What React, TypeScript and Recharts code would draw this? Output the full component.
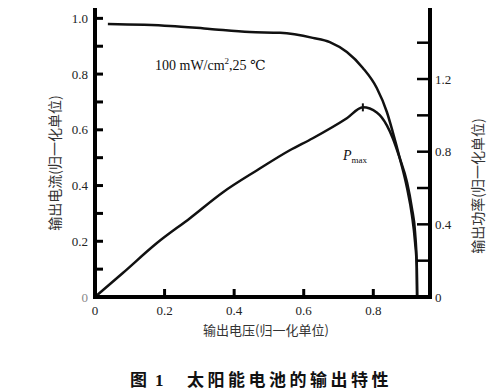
import { LineChart, Line, XAxis, YAxis } from 'recharts'

// output voltage (normalized) vs current (normalized)
const ivVoltage = [0.037, 0.216, 0.33, 0.445, 0.532, 0.626, 0.675, 0.724, 0.77, 0.81, 0.839, 0.856, 0.876, 0.897, 0.911, 0.92, 0.925, 0.926]
const ivCurrent = [0.98, 0.973, 0.962, 0.951, 0.948, 0.93, 0.915, 0.879, 0.822, 0.75, 0.664, 0.592, 0.499, 0.391, 0.294, 0.197, 0.104, 0]

// output voltage vs power (normalized)
const pVoltage = [0, 0.08, 0.178, 0.273, 0.368, 0.466, 0.56, 0.626, 0.724, 0.77, 0.81, 0.839, 0.856, 0.876, 0.897, 0.911, 0.92, 0.925, 0.926]
const pPower = [0, 0.132, 0.297, 0.434, 0.577, 0.698, 0.808, 0.874, 0.984, 1.044, 1.016, 0.945, 0.874, 0.764, 0.632, 0.489, 0.357, 0.176, 0]

const xTicks = [0, 0.2, 0.4, 0.6, 0.8]
const leftTicks = [0, 0.1, 0.2, 0.3, 0.4, 0.5, 0.6, 0.7, 0.8, 0.9, 1.0]
const rightTicks = [0, 0.2, 0.4, 0.6, 0.8, 1.0, 1.2, 1.4]

const ivData = ivVoltage.map((v, i) => ({ v, current: ivCurrent[i] }))
const pData = pVoltage.map((v, i) => ({ v, power: pPower[i] }))
const peakIdx = pPower.indexOf(Math.max(...pPower))

const NUM_FONT = '"Liberation Serif", "DejaVu Serif", serif'
const CJK_FONT = '"Noto Sans CJK SC", sans-serif'

const fmt = (v: number) => (v === 0 ? '0' : v.toFixed(1))

function LeftTick({ x, y, payload }: any) {
  const v = payload.value
  const major = Math.round(v * 10) % 2 === 0
  return (
    <g>
      {v !== 0 && <line x1={x} x2={x + 8} y1={y} y2={y} stroke="#000" strokeWidth={3} />}
      {major && (
        <text x={x - 7} y={y} dy="0.35em" textAnchor="end" fontFamily={NUM_FONT} fontSize={13} fill={v === 0 ? '#888' : '#222'}>
          {fmt(v)}
        </text>
      )}
    </g>
  )
}

function RightTick({ x, y, payload }: any) {
  const v = payload.value
  const major = Math.round(v * 10) % 4 === 0
  return (
    <g>
      {v !== 0 && <line x1={x} x2={x - 13} y1={y} y2={y} stroke="#000" strokeWidth={2.5} />}
      {major && (
        <text x={x + 5} y={y} dy="0.35em" textAnchor="start" fontFamily={NUM_FONT} fontSize={13} fill="#222">
          {fmt(v)}
        </text>
      )}
    </g>
  )
}

function BottomTick({ x, y, payload }: any) {
  const v = payload.value
  return (
    <g>
      {v !== 0 && <line x1={x} x2={x} y1={y} y2={y - 8} stroke="#000" strokeWidth={3} />}
      <text x={x} y={y + 13} dy="0.35em" textAnchor="middle" fontFamily={NUM_FONT} fontSize={13} fill="#222">
        {fmt(v)}
      </text>
    </g>
  )
}

const frame = { stroke: '#000', strokeWidth: 4, strokeLinecap: 'square' as const }

export default function App() {
  return (
    <div style={{ position: 'absolute', left: 0, top: 0, width: 500, height: 391, background: '#fff' }}>
      <LineChart width={500} height={391} margin={{ top: 10, right: 30, bottom: 64, left: 55 }}>
        <XAxis
          dataKey="v"
          type="number"
          domain={[0, 0.963]}
          ticks={xTicks}
          interval={0}
          allowDataOverflow
          height={30}
          tickSize={0}
          tickMargin={0}
          tickLine={false}
          axisLine={frame}
          tick={<BottomTick />}
        />
        <XAxis
          xAxisId="top"
          orientation="top"
          type="number"
          domain={[0, 0.963]}
          height={0}
          tick={false}
          tickLine={false}
          axisLine={frame}
        />
        <YAxis
          yAxisId="left"
          type="number"
          domain={[0, 1.03]}
          ticks={leftTicks}
          interval={0}
          allowDataOverflow
          width={40}
          tickSize={0}
          tickMargin={0}
          tickLine={false}
          axisLine={frame}
          tick={<LeftTick />}
        />
        <YAxis
          yAxisId="right"
          orientation="right"
          type="number"
          domain={[0, 1.58]}
          ticks={rightTicks}
          interval={0}
          allowDataOverflow
          width={40}
          tickSize={0}
          tickMargin={0}
          tickLine={false}
          axisLine={frame}
          tick={<RightTick />}
        />
        <Line
          yAxisId="left"
          data={ivData}
          dataKey="current"
          type="monotone"
          stroke="#111"
          strokeWidth={2.5}
          dot={false}
          isAnimationActive={false}
        />
        <Line
          yAxisId="right"
          data={pData}
          dataKey="power"
          type="monotone"
          stroke="#111"
          strokeWidth={2.5}
          isAnimationActive={false}
          dot={(p: any) =>
            p.index === peakIdx ? (
              <line key="peak" x1={p.cx} x2={p.cx} y1={p.cy - 4} y2={p.cy + 4} stroke="#111" strokeWidth={2} />
            ) : (
              <g key={p.index} />
            )
          }
        />
      </LineChart>
      <svg width={500} height={391} style={{ position: 'absolute', left: 0, top: 0, pointerEvents: 'none' }}>
        <text x={155} y={70} fontFamily={NUM_FONT} fontSize={14} fill="#111">
          100 mW/cm<tspan fontSize={9} dy={-6}>2</tspan>
          <tspan dy={6}>,25 ℃</tspan>
        </text>
        <text x={343} y={160} fontFamily={NUM_FONT} fontSize={14} fontStyle="italic" fill="#111">
          P<tspan fontSize={9} fontStyle="normal" dy={3}>max</tspan>
        </text>
        <text x={55} y={163} transform="rotate(-90 55 163)" textAnchor="middle" dy="0.35em" fontFamily={CJK_FONT} fontSize={14} fill="#333">
          输出电流(归一化单位)
        </text>
        <text x={478} y={186} transform="rotate(-90 478 186)" textAnchor="middle" dy="0.35em" fontFamily={CJK_FONT} fontSize={14} fill="#333">
          输出功率(归一化单位)
        </text>
        <text x={266} y={330} textAnchor="middle" dy="0.35em" fontFamily={CJK_FONT} fontSize={13} fill="#333">
          输出电压(归一化单位)
        </text>
        <text x={130} y={380} dy="0.35em" fontFamily={CJK_FONT} fontSize={17} fontWeight="bold" fill="#111">
          图
        </text>
        <text x={155} y={380} dy="0.35em" fontFamily={NUM_FONT} fontSize={17} fontWeight="bold" fill="#111">
          1
        </text>
        <text x={187} y={380} dy="0.35em" fontFamily={CJK_FONT} fontSize={17} fontWeight="bold" letterSpacing={3.5} fill="#111">
          太阳能电池的输出特性
        </text>
      </svg>
    </div>
  )
}
